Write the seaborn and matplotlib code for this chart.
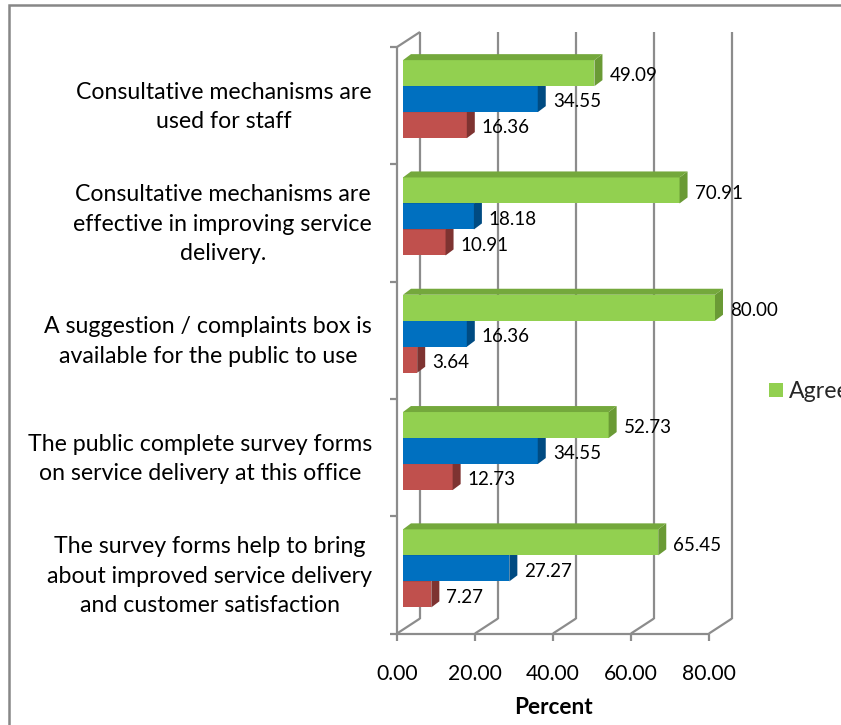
import numpy as np
import pandas as pd
import matplotlib
matplotlib.use("Agg")
import matplotlib.pyplot as plt
import matplotlib.transforms as mtrans
from matplotlib.patches import Polygon, Rectangle, Patch
from matplotlib.lines import Line2D
import seaborn as sns

# ---------------- data ----------------
categories = [
    "Consultative mechanisms are\nused for staff",
    "Consultative mechanisms are\neffective in improving service\ndelivery.",
    "A suggestion / complaints box is\navailable for the public to use",
    "The public complete survey forms\non service delivery at this office",
    "The survey forms help to bring\nabout improved service delivery\nand customer satisfaction",
]
series = ["Agree", "Disagree", "Undecided"]
agree = [49.09, 70.91, 80.00, 52.73, 65.45]
disagree = [34.55, 18.18, 16.36, 34.55, 27.27]
undecided = [16.36, 10.91, 3.64, 12.73, 7.27]
xticks = [0, 20, 40, 60, 80]
xticklabels = ["0.00", "20.00", "40.00", "60.00", "80.00"]
xlabel = "Percent"
legend_shown = ["Agree"]

front_colors = ["#92D050", "#0070C0", "#C0504D"]
side_colors = ["#6A9A35", "#004B82", "#7E3331"]
top_colors = ["#74A83C", "#00589A", "#953C39"]
grid_color = "#8C8C8C"

# ---------------- setup ----------------
sns.set_theme(style="white")
plt.rcParams["font.family"] = ["Lato", "DejaVu Sans"]
FS_DATA = 13.5
FS_CAT = 16.7
FS_TICK = 15.2
FS_XLABEL = 16.3

W, H = 841, 725
fig = plt.figure(figsize=(W / 100, H / 100), dpi=100)
ax_left, ax_top, ax_w, ax_h = 403, 40.5, 331.5, 586.5
ax = fig.add_axes([ax_left / W, 1 - (ax_top + ax_h) / H, ax_w / W, ax_h / H])

df = pd.DataFrame({
    "Statement": categories * 3,
    "Percent": agree + disagree + undecided,
    "Response": [s for s in series for _ in categories],
})

sns.barplot(data=df, x="Percent", y="Statement", hue="Response",
            order=categories, hue_order=series, palette=front_colors,
            orient="h", width=0.665, saturation=1, linewidth=0,
            errorbar=None, legend=False, ax=ax)
ax.set_xlim(0, 85)
ax.set_ylim(4.5, -0.5)
for s in ax.spines.values():
    s.set_visible(False)
ax.grid(False)
ax.set_ylabel("")

ident = mtrans.IdentityTransform()


def disp(px, py):
    """pixel (top-down) -> display coords"""
    return px, H - py


# front plane offset and back plane offset relative to the bar plane (pixels)
FRONT = (-6, 6.5)
BACK = (17, -8.5)
LABEL_SHIFT = 1.5  # downward shift of category labels (pixels)


def xpix(v):
    return ax.transData.transform((v, 0))[0]


def ypix(c):
    return H - ax.transData.transform((0, c))[1]


def line(p1, p2, lw=1.6, z=0.5):
    (x1, y1), (x2, y2) = disp(*p1), disp(*p2)
    ln = Line2D([x1, x2], [y1, y2], transform=ident, color=grid_color,
                lw=lw, zorder=z, clip_on=False, solid_capstyle="butt")
    ax.add_artist(ln)


y_top_bar = ypix(-0.5)
y_bot_bar = ypix(4.5)

# back wall gridlines
for v in xticks:
    xb = xpix(v) + BACK[0]
    line((xb, y_top_bar + BACK[1]), (xb, y_bot_bar + BACK[1]))

# left wall front line + ticks + top diagonal
xf0 = xpix(0) + FRONT[0]
line((xf0, y_top_bar + FRONT[1]), (xf0, y_bot_bar + FRONT[1]))
for c in np.arange(-0.5, 5.0, 1.0):
    yy = ypix(c) + FRONT[1]
    line((xf0 - 7, yy), (xf0, yy))
line((xf0, y_top_bar + FRONT[1]), (xpix(0) + BACK[0], y_top_bar + BACK[1]))

# floor
yfl = y_bot_bar + FRONT[1]
line((xf0, yfl), (xpix(xticks[-1]) + FRONT[0], yfl))
for v in xticks:
    xf = xpix(v) + FRONT[0]
    line((xf, yfl), (xf, yfl + 7))
    line((xf, yfl), (xpix(v) + BACK[0], y_bot_bar + BACK[1]))

# ---------------- 3D bar faces ----------------
DX, DY = 8, 6  # display pixels (right, up)
zorders = [6, 5, 4]
for i, cont in enumerate(ax.containers):
    z = zorders[i]
    for p in cont.patches:
        p.set_zorder(z)
        x, y, w, h = p.get_x(), p.get_y(), p.get_width(), p.get_height()
        (xl, ya) = ax.transData.transform((x, y))
        (xr, yb) = ax.transData.transform((x + w, y + h))
        yt, ybt = max(ya, yb), min(ya, yb)
        side = Polygon([(xr, yt), (xr + DX, yt + DY), (xr + DX, ybt + DY), (xr, ybt)],
                       closed=True, transform=ident, facecolor=side_colors[i],
                       edgecolor="none", zorder=z, clip_on=False)
        top = Polygon([(xl, yt), (xl + DX, yt + DY), (xr + DX, yt + DY), (xr, yt)],
                      closed=True, transform=ident, facecolor=top_colors[i],
                      edgecolor="none", zorder=z, clip_on=False)
        ax.add_patch(side)
        ax.add_patch(top)
    anns = ax.bar_label(cont, fmt="%.2f", padding=10.8, fontsize=FS_DATA, color="black")
    for a in anns:
        a.xyann = (10.8, -2)
        a.set_zorder(10)

# ---------------- axis text ----------------
ax.tick_params(axis="y", length=0, pad=22.3, labelsize=FS_CAT, colors="black")
off_y = mtrans.ScaledTranslation(0, -LABEL_SHIFT / 100, fig.dpi_scale_trans)
for lab in ax.get_yticklabels():
    lab.set_multialignment("center")
    lab.set_linespacing(1.5)
    lab.set_transform(lab.get_transform() + off_y)

ax.set_xticks(xticks, labels=xticklabels)
ax.tick_params(axis="x", length=0, pad=26.5, labelsize=FS_TICK, colors="black")
off_x = mtrans.ScaledTranslation(FRONT[0] / 100, 0, fig.dpi_scale_trans)
for lab in ax.get_xticklabels():
    lab.set_transform(lab.get_transform() + off_x)

ax.set_xlabel(xlabel, fontsize=FS_XLABEL, fontweight="bold", color="black")
ax.xaxis.set_label_coords((xpix(40) + FRONT[0] - xpix(0)) / ax_w,
                          (y_bot_bar - 708) / ax_h)
ax.xaxis.label.set_verticalalignment("center")

# legend (runs past the right edge, as in the reference)
handles = [Patch(facecolor=front_colors[series.index(s)], edgecolor="none")
           for s in legend_shown]
fig.legend(handles, legend_shown, loc="center left",
           bbox_to_anchor=(769 / W, 1 - 392 / H), frameon=False,
           borderpad=0, borderaxespad=0, handlelength=0.6, handleheight=0.56,
           handletextpad=0.27, fontsize=FS_CAT)

# outer chart border (only left and top edges fall within the picture)
fig.patches.append(Rectangle((9 / W, -0.1), 1.2, 1 - 5 / H + 0.1,
                             transform=fig.transFigure, fill=False,
                             edgecolor="#878787", lw=1.8, zorder=0))

fig.savefig("out.png", dpi=100)
